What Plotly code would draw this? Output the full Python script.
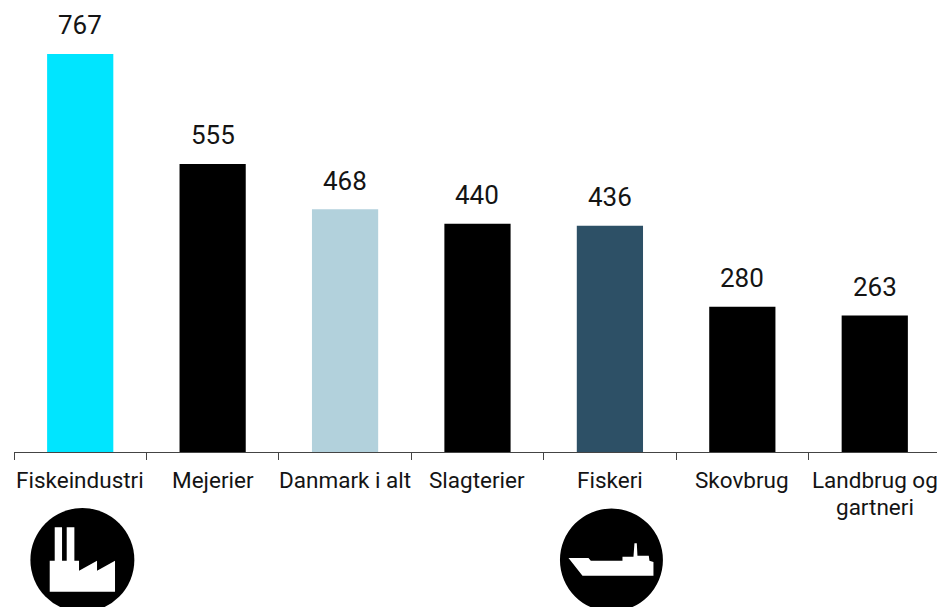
import plotly.graph_objects as go

categories = ["Fiskeindustri", "Mejerier", "Danmark i alt", "Slagterier", "Fiskeri", "Skovbrug", "Landbrug og<br>gartneri"]
values = [767, 555, 468, 440, 436, 280, 263]
colors = ["#00E5FF", "#000000", "#B2D1DC", "#000000", "#2D5066", "#000000", "#000000"]

W, H = 937, 607
LEFT, BASE = 13.6, 452
FONT = "Roboto"
TEXT = "#141414"

def px(x):
    return (x - LEFT) / (W - LEFT)

def py(y):
    return 1 - y / BASE

def path(points):
    return "M" + "L".join(f"{px(x)},{py(y)}" for x, y in points) + "Z"

factory = [(148,455),(148,362),(163,362),(163,262),(185,262),(185,362),(199,362),(199,262),(222,262),
           (222,362),(236,362),(236,392),(290,362),(290,392),(344,362),(344,455)]
factory = [(x/3, y/3+440) for x, y in factory]
ship = [(115,354),(175,354),(182,362),(277,362),(277,350),(310,350),(313,310),(320,310),(322,347),
        (356,347),(358,362),(370,366),(370,407),(157,407)]
ship = [(x/3+530, y/3+440) for x, y in ship]

fig = go.Figure(go.Bar(x=list(range(7)), y=values, marker=dict(color=colors, line_width=0), width=0.5, hoverinfo="skip"))

annotations = [dict(x=i, y=v, xref="x", yref="y", text=str(v), showarrow=False, yanchor="bottom", yshift=11.5,
                    font=dict(family=FONT, size=26, color=TEXT)) for i, v in enumerate(values)]
for i, c in enumerate(categories):
    for j, line in enumerate(c.split("<br>")):
        annotations.append(dict(x=i, xref="x", y=0, yref="paper", yanchor="top", yshift=-13 - 27 * j, text=line,
                                showarrow=False, font=dict(family=FONT, size=22.5, color=TEXT), align="center"))

shapes = []
for cx, cy, r, poly in [(82, 560, 52, factory), (611.3, 560, 51.5, ship)]:
    shapes.append(dict(type="circle", xref="paper", yref="paper", x0=px(cx-r), x1=px(cx+r), y0=py(cy+r), y1=py(cy-r),
                       fillcolor="#000000", line_width=0, layer="above"))
    shapes.append(dict(type="path", xref="paper", yref="paper", path=path(poly), fillcolor="#FFFFFF", line_width=0, layer="above"))

fig.update_layout(
    width=W, height=H,
    margin=dict(l=LEFT, r=0, t=0, b=H-BASE, pad=0),
    paper_bgcolor="white", plot_bgcolor="white",
    showlegend=False, annotations=annotations, shapes=shapes,
)
fig.update_xaxes(
    range=[-0.5, 6.47], tickmode="array", tickvals=[i - 0.5 for i in range(8)], ticktext=[""]*8,
    ticks="outside", ticklen=7, tickcolor="#444444", tickwidth=1,
    showline=True, linecolor="#444444", linewidth=1, showgrid=False, zeroline=False,
)
fig.update_yaxes(range=[0, 871], visible=False)
fig.write_html("out.html", config=dict(displayModeBar=False),
               post_script="document.body.style.margin='0';document.body.style.overflow='hidden';")
